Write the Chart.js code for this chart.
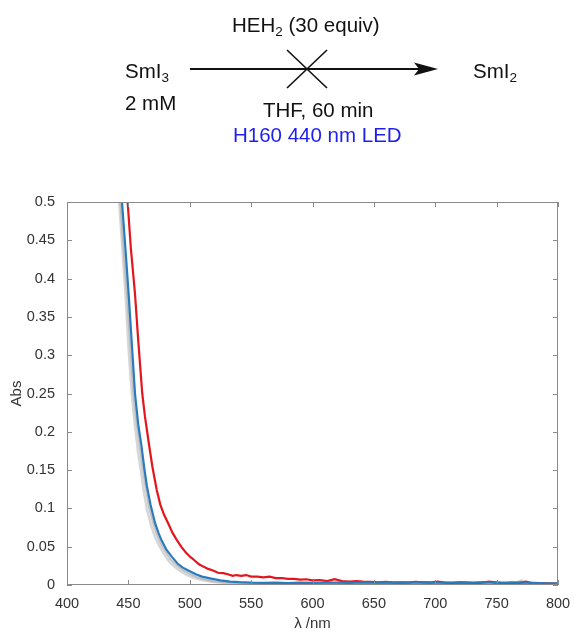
<!DOCTYPE html>
<html>
<head>
<meta charset="utf-8">
<script src="https://cdn.jsdelivr.net/npm/chart.js@4/dist/chart.umd.min.js"></script>
<style>
  html, body { margin: 0; padding: 0; background: #fff; }
  #wrap { position: relative; width: 574px; height: 633px; overflow: hidden; }
  #chart { position: absolute; left: 0; top: 0; }
  #scheme { position: absolute; left: 0; top: 0; }
  #scheme text { font-family: "Liberation Sans", Arial, sans-serif; font-size: 20.5px; fill: #111; }
</style>
</head>
<body>
<div id="wrap">
  <canvas id="chart" width="574" height="633"></canvas>
  <svg id="scheme" width="574" height="170" xmlns="http://www.w3.org/2000/svg">
    <text x="232" y="31.5">HEH<tspan font-size="13.5" dy="4">2</tspan><tspan dy="-4"> (30 equiv)</tspan></text>
    <text x="125" y="77.5">SmI<tspan font-size="13.5" dy="4">3</tspan></text>
    <text x="125" y="110">2 mM</text>
    <text x="473" y="77.5">SmI<tspan font-size="13.5" dy="4">2</tspan></text>
    <line x1="190" y1="69" x2="420" y2="69" stroke="#111" stroke-width="2"/>
    <polygon points="438,69 414,62.5 419,69 414,75.5" fill="#111"/>
    <line x1="287" y1="50" x2="327" y2="88" stroke="#111" stroke-width="1.6"/>
    <line x1="327" y1="50" x2="287" y2="88" stroke="#111" stroke-width="1.6"/>
    <text x="263" y="117">THF, 60 min</text>
    <text x="233" y="141.5" style="fill:#1e1ef0">H160 440 nm LED</text>
  </svg>
</div>
<script>
// Axis ticks
const xTicks = [400, 450, 500, 550, 600, 650, 700, 750, 800];
const yTicks = [0, 0.05, 0.1, 0.15, 0.2, 0.25, 0.3, 0.35, 0.4, 0.45, 0.5];

// Spectrum after irradiation (red)
const redWl = [444, 449.4, 452, 455.4, 458, 461.3, 463.5, 466.3, 469.5, 473.1, 476, 479, 482.6, 486, 489.4, 493, 496.5, 500.2, 504, 507.5, 511, 515, 519, 523, 527.3, 531, 535, 538, 542, 546, 550, 555, 560, 565, 570, 575, 580, 585, 590, 595, 600, 606, 612, 618, 624, 630, 636, 641, 647, 653, 660, 666, 672, 678, 684, 690, 696, 702, 708, 714, 720, 726, 732, 738, 744, 750, 756, 762, 768, 774, 780, 786, 792, 800];
const redAbs = [0.66, 0.5, 0.44, 0.38, 0.32, 0.25, 0.22, 0.189, 0.155, 0.124, 0.105, 0.092, 0.08, 0.068, 0.059, 0.05, 0.043, 0.037, 0.032, 0.027, 0.024, 0.021, 0.019, 0.016, 0.0155, 0.014, 0.012, 0.013, 0.012, 0.013, 0.011, 0.011, 0.01, 0.011, 0.009, 0.009, 0.008, 0.008, 0.007, 0.0075, 0.006, 0.0065, 0.005, 0.0075, 0.005, 0.0045, 0.005, 0.0044, 0.004, 0.0035, 0.004, 0.003, 0.0035, 0.003, 0.004, 0.0035, 0.003, 0.0045, 0.003, 0.0025, 0.0035, 0.003, 0.0025, 0.003, 0.0045, 0.003, 0.002, 0.003, 0.0025, 0.0045, 0.002, 0.0025, 0.002, 0.0015];

// Initial spectrum (blue)
const blueWl = [440, 444.8, 448, 450.2, 453, 455.4, 458, 460.8, 463, 465, 468, 471.7, 474.5, 477.1, 481, 485.3, 490, 494, 498.8, 505, 510, 516.5, 525, 532.8, 540, 545, 550, 560, 570, 580, 590, 600, 610, 620, 630, 640, 650, 660, 670, 680, 690, 700, 710, 720, 730, 740, 750, 760, 770, 780, 790, 800];
const blueAbs = [0.68, 0.5, 0.43, 0.38, 0.31, 0.25, 0.21, 0.18, 0.152, 0.13, 0.105, 0.081, 0.068, 0.058, 0.046, 0.037, 0.028, 0.023, 0.019, 0.014, 0.011, 0.0087, 0.006, 0.0045, 0.0038, 0.0035, 0.003, 0.0028, 0.003, 0.0025, 0.003, 0.0028, 0.0032, 0.003, 0.0028, 0.0033, 0.003, 0.0035, 0.003, 0.0033, 0.0038, 0.0032, 0.003, 0.0035, 0.003, 0.0038, 0.0032, 0.003, 0.0035, 0.0028, 0.0022, 0.002];

// Intermediate scans (grey)
const grey1Wl = [440, 442.5, 445.5, 447.8, 450.5, 452.8, 455.2, 458, 460.3, 462.2, 465, 468.5, 471.5, 474.5, 478.5, 482.5, 487.5, 492.5, 498, 504, 510, 518, 528, 540, 560, 600, 650, 700, 750, 765, 770, 775, 800];
const grey1Abs = [0.58, 0.5, 0.43, 0.375, 0.3, 0.25, 0.21, 0.172, 0.148, 0.126, 0.1, 0.078, 0.064, 0.053, 0.042, 0.032, 0.024, 0.018, 0.013, 0.009, 0.0065, 0.0042, 0.0026, 0.0018, 0.0014, 0.0015, 0.0013, 0.0015, 0.0012, 0.0018, 0.006, 0.002, 0.001];
const grey2Wl = [440, 443.5, 446.5, 449, 451.8, 454.2, 456.8, 459.6, 461.9, 463.9, 466.8, 470.3, 473.2, 476, 480, 484, 489, 494, 499.5, 505.5, 511.5, 519.5, 529.5, 540, 560, 600, 650, 700, 750, 800];
const grey2Abs = [0.62, 0.5, 0.43, 0.378, 0.305, 0.25, 0.21, 0.176, 0.15, 0.128, 0.102, 0.08, 0.066, 0.055, 0.044, 0.034, 0.026, 0.02, 0.015, 0.0105, 0.0075, 0.005, 0.0032, 0.0023, 0.0018, 0.0019, 0.0017, 0.0019, 0.0016, 0.0012];

const pairs = (xs, ys) => xs.map((x, i) => ({ x: x, y: ys[i] }));

// Box frame with inward ticks on all four sides
const boxTicks = {
  id: 'boxTicks',
  afterDatasetsDraw(chart) {
    const { ctx, chartArea: a, scales: { x, y } } = chart;
    const len = 5;
    ctx.save();
    ctx.strokeStyle = '#8a8a8a';
    ctx.lineWidth = 1;
    ctx.beginPath();
    ctx.rect(a.left + 0.5, a.top + 0.5, a.right - a.left - 1, a.bottom - a.top - 1);
    xTicks.forEach(v => {
      const px = Math.round(x.getPixelForValue(v)) + 0.5;
      ctx.moveTo(px, a.bottom); ctx.lineTo(px, a.bottom - len);
      ctx.moveTo(px, a.top); ctx.lineTo(px, a.top + len);
    });
    yTicks.forEach(v => {
      const py = Math.round(y.getPixelForValue(v)) + 0.5;
      ctx.moveTo(a.left, py); ctx.lineTo(a.left + len, py);
      ctx.moveTo(a.right, py); ctx.lineTo(a.right - len, py);
    });
    ctx.stroke();
    ctx.restore();
  }
};

const tickFont = { family: '"Liberation Sans", Arial, sans-serif', size: 14.5 };
const titleFont = { family: '"Liberation Sans", Arial, sans-serif', size: 15 };

new Chart(document.getElementById('chart'), {
  type: 'scatter',
  data: {
    datasets: [
      { data: pairs(blueWl, blueAbs), borderColor: '#2a7bbd', borderWidth: 2.2, order: 0 },
      { data: pairs(redWl, redAbs), borderColor: '#e3161d', borderWidth: 2.2, order: 1 },
      { data: pairs(grey2Wl, grey2Abs), borderColor: 'rgba(175,175,175,0.75)', borderWidth: 2, order: 2 },
      { data: pairs(grey1Wl, grey1Abs), borderColor: 'rgba(200,200,200,0.75)', borderWidth: 2.5, order: 3 }
    ].map(d => Object.assign(d, { showLine: true, pointRadius: 0, tension: 0, fill: false }))
  },
  options: {
    responsive: false,
    animation: false,
    devicePixelRatio: 1,
    layout: { padding: { left: 0, top: 202, right: 16, bottom: 0 } },
    plugins: { legend: { display: false }, tooltip: { enabled: false } },
    scales: {
      x: {
        type: 'linear', min: 400, max: 800,
        afterBuildTicks: s => { s.ticks = xTicks.map(v => ({ value: v })); },
        afterFit: s => { s.height = 48; s.paddingLeft = 0; s.paddingRight = 0; },
        grid: { display: false, drawTicks: false },
        border: { display: false },
        ticks: { padding: 10, color: '#333', font: tickFont, maxRotation: 0, callback: v => String(v) },
        title: { display: true, text: 'λ /nm', color: '#333', font: titleFont, padding: { top: 0, bottom: 0 } }
      },
      y: {
        type: 'linear', min: 0, max: 0.5,
        afterBuildTicks: s => { s.ticks = yTicks.map(v => ({ value: v })); },
        afterFit: s => { s.width = 67; s.paddingTop = 0; s.paddingBottom = 0; },
        grid: { display: false, drawTicks: false },
        border: { display: false },
        ticks: { padding: 12, color: '#333', font: tickFont, callback: v => String(+v.toFixed(2)) },
        title: { display: true, text: 'Abs', color: '#333', font: titleFont, padding: { top: 8, bottom: 0 } }
      }
    }
  },
  plugins: [boxTicks]
});
</script>
</body>
</html>
